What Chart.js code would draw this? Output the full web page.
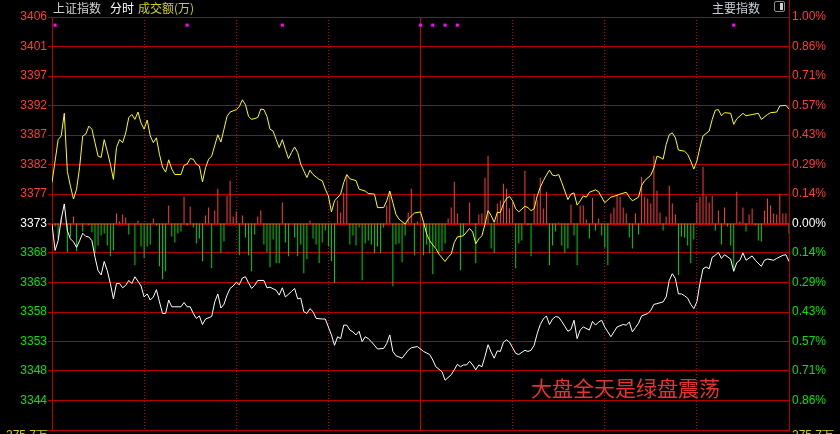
<!DOCTYPE html>
<html>
<head>
<meta charset="utf-8">
<title>上证指数 分时</title>
<script src="https://cdn.jsdelivr.net/npm/chart.js@4.4.1/dist/chart.umd.min.js"></script>
<style>
    html, body { margin: 0; padding: 0; background: #000; }
    #wrap { position: relative; width: 840px; height: 434px; overflow: hidden; background: #000; }
    #fenshiChart { position: absolute; left: 0; top: 0; }
    .lbl { position: absolute; top: 0; font-family: "Noto Sans CJK SC", sans-serif; font-size: 12px; line-height: 16px; white-space: nowrap; }
    .vol { position: absolute; top: 427px; font-family: "Liberation Sans", sans-serif; font-size: 12px; line-height: 16px; color: #d2d200; white-space: nowrap; }
    .note { position: absolute; left: 531px; top: 375px; font-family: "Noto Sans CJK SC", sans-serif; font-size: 21px; line-height: 24px; color: #e63232; white-space: nowrap; }
    #toggle { position: absolute; left: 774px; top: 1px; width: 9px; height: 9px; border: 1px solid #8c8c8c; border-radius: 2px; }
    #toggle div { position: absolute; right: 1px; top: 1px; width: 3px; height: 7px; background: #d0d0d0; }
    #rightEdge { position: absolute; left: 789px; top: 0; width: 1px; height: 17px; background: #b40000; }
</style>
</head>
<body>
<div id="wrap">
    <canvas id="fenshiChart" width="840" height="434"></canvas>
    <span class="lbl" style="left:53px; color:#d2d2d2;">上证指数</span>
    <span class="lbl" style="left:110px; color:#ffffff;">分时</span>
    <span class="lbl" style="left:138px; color:#d2d200;">成交额(万)</span>
    <span class="lbl" style="left:712px; color:#c8d0dc;">主要指数</span>
    <div id="toggle"><div></div></div>
    <div id="rightEdge"></div>
    <span class="vol" style="left:6px;">275.7万</span>
    <span class="vol" style="left:792px;">275.7万</span>
    <span class="note">大盘全天是绿盘震荡</span>
</div>
<script>
// previous close and axis labels
var prevClose = 3372.8;
var priceLabels = ['3406', '3401', '3397', '3392', '3387', '3382', '3377', '3373', '3368', '3363', '3358', '3353', '3348', '3344', ''];
var pctLabels = ['1.00%', '0.86%', '0.71%', '0.57%', '0.43%', '0.29%', '0.14%', '0.00%', '0.14%', '0.29%', '0.43%', '0.57%', '0.71%', '0.86%', ''];
var gridMinutes = [0, 30, 60, 90, 120, 150, 180, 210, 240];

// [minute since 9:30, price]
var yellowSeries = [
    [0, 3379.5], [1, 3383.0], [2, 3386.5], [3, 3387.1], [4, 3390.8], [5, 3381.3], [6, 3378.9], [7, 3376.8], [8, 3378.4], [9, 3382.0],
    [10, 3387.1], [11, 3387.4], [12, 3388.7], [13, 3388.2], [14, 3386.0], [15, 3383.8], [16, 3383.6], [17, 3386.5], [18, 3384.6], [19, 3382.5],
    [20, 3380.0], [21, 3385.2], [22, 3386.5], [23, 3386.0], [24, 3387.6], [25, 3390.1], [26, 3390.6], [27, 3389.8], [28, 3391.0], [29, 3389.2],
    [30, 3388.2], [31, 3389.7], [32, 3387.1], [33, 3386.0], [34, 3386.8], [35, 3384.1], [36, 3382.0], [37, 3381.2], [38, 3383.2], [39, 3381.7],
    [40, 3380.8], [42, 3380.8], [43, 3382.3], [44, 3382.5], [45, 3383.4], [46, 3383.3], [47, 3382.5], [48, 3382.2], [49, 3379.6], [50, 3381.9],
    [51, 3383.3], [52, 3383.8], [54, 3387.3], [55, 3386.1], [56, 3388.2], [57, 3390.3], [58, 3391.0], [60, 3391.4], [61, 3391.9], [62, 3393.0],
    [63, 3392.2], [64, 3390.3], [65, 3389.8], [67, 3390.1], [68, 3391.5], [69, 3391.4], [70, 3390.3], [71, 3388.2], [72, 3387.9], [73, 3386.5],
    [74, 3385.2], [75, 3386.5], [76, 3384.9], [77, 3383.4], [78, 3384.4], [79, 3385.3], [80, 3384.4], [81, 3382.5], [83, 3380.3], [84, 3381.5],
    [85, 3380.8], [87, 3380.0], [88, 3379.8], [89, 3378.4], [90, 3377.3], [91, 3374.7], [92, 3376.5], [94, 3377.6], [95, 3379.5], [96, 3380.8],
    [97, 3380.1], [99, 3379.8], [100, 3378.4], [102, 3378.1], [103, 3377.7], [105, 3377.6], [106, 3375.4], [108, 3375.4], [109, 3376.5], [110, 3378.1],
    [111, 3376.2], [112, 3374.3], [113, 3373.5], [115, 3372.7], [116, 3373.5], [118, 3374.5], [120, 3374.7], [121, 3373.0], [122, 3371.1], [123, 3370.0],
    [124, 3369.3], [125, 3368.7], [126, 3367.8], [128, 3366.6], [129, 3367.3], [130, 3367.8], [131, 3369.7], [132, 3370.6], [134, 3370.8], [135, 3371.4],
    [136, 3372.0], [137, 3371.4], [138, 3369.5], [139, 3370.3], [140, 3370.8], [141, 3372.7], [142, 3374.9], [143, 3374.1], [144, 3373.0], [145, 3374.6],
    [146, 3374.6], [147, 3376.0], [148, 3376.9], [149, 3377.2], [150, 3376.5], [151, 3375.2], [152, 3374.7], [154, 3375.6], [155, 3375.4], [156, 3374.9],
    [157, 3375.2], [158, 3377.3], [159, 3378.7], [160, 3379.8], [161, 3380.7], [162, 3381.5], [163, 3380.7], [164, 3380.6], [165, 3380.8], [166, 3379.5],
    [167, 3378.1], [168, 3376.7], [169, 3377.6], [170, 3377.8], [171, 3375.8], [172, 3376.5], [173, 3377.3], [174, 3377.1], [175, 3377.9], [177, 3378.3],
    [178, 3378.0], [180, 3376.2], [182, 3377.1], [184, 3377.4], [185, 3377.6], [187, 3377.9], [188, 3377.1], [189, 3376.5], [191, 3377.1], [192, 3379.0],
    [193, 3379.8], [195, 3380.7], [196, 3381.9], [197, 3383.8], [198, 3383.6], [199, 3383.3], [200, 3385.7], [201, 3387.3], [202, 3387.6], [203, 3386.8],
    [204, 3384.8], [206, 3384.6], [207, 3384.1], [208, 3383.0], [209, 3381.7], [210, 3383.0], [211, 3385.2], [212, 3387.1], [214, 3387.9], [215, 3389.8],
    [216, 3391.3], [217, 3391.4], [218, 3390.4], [219, 3390.9], [221, 3390.8], [222, 3389.0], [223, 3389.9], [225, 3390.8], [226, 3390.4], [228, 3390.6],
    [230, 3390.8], [231, 3389.8], [233, 3390.6], [234, 3390.9], [236, 3391.0], [237, 3392.0], [239, 3392.1], [240, 3391.5]
];

var whiteSeries = [
    [0, 3372.7], [1, 3368.4], [2, 3370.0], [3, 3373.5], [4, 3376.0], [5, 3371.6], [6, 3370.3], [7, 3369.8], [8, 3368.9], [9, 3370.0],
    [10, 3371.2], [11, 3370.7], [12, 3370.6], [13, 3370.0], [14, 3367.3], [15, 3365.1], [16, 3364.4], [17, 3366.6], [18, 3365.1], [19, 3363.0],
    [20, 3360.5], [21, 3363.0], [22, 3363.0], [23, 3362.3], [24, 3362.7], [25, 3363.5], [26, 3363.0], [27, 3364.1], [29, 3362.6], [30, 3360.8],
    [31, 3361.3], [32, 3360.3], [33, 3360.8], [34, 3362.0], [35, 3360.0], [36, 3358.1], [37, 3358.1], [38, 3360.3], [39, 3359.2], [40, 3359.2],
    [42, 3359.2], [43, 3359.9], [44, 3359.2], [45, 3359.2], [46, 3358.1], [47, 3357.3], [48, 3357.7], [49, 3356.3], [50, 3357.2], [52, 3357.6],
    [53, 3360.0], [54, 3361.3], [55, 3359.0], [56, 3359.6], [57, 3361.1], [58, 3362.2], [59, 3362.6], [60, 3363.2], [61, 3362.8], [62, 3363.9],
    [63, 3364.1], [64, 3363.1], [65, 3362.2], [66, 3362.7], [67, 3363.5], [69, 3363.5], [70, 3362.3], [71, 3362.4], [73, 3361.9], [74, 3361.1],
    [75, 3362.3], [76, 3360.8], [78, 3361.7], [79, 3362.2], [80, 3360.5], [81, 3360.6], [82, 3358.4], [83, 3358.1], [84, 3358.9], [85, 3358.4],
    [86, 3357.3], [88, 3357.2], [89, 3357.2], [90, 3355.9], [91, 3354.6], [92, 3352.9], [93, 3354.3], [94, 3354.0], [95, 3356.2], [96, 3356.2],
    [97, 3355.4], [98, 3355.1], [99, 3354.6], [100, 3355.2], [101, 3353.5], [102, 3354.3], [103, 3354.0], [104, 3353.5], [106, 3352.3], [108, 3352.4],
    [109, 3353.2], [110, 3354.6], [111, 3351.9], [112, 3351.2], [114, 3350.8], [116, 3352.1], [117, 3352.5], [119, 3352.7], [121, 3351.9], [123, 3351.4],
    [124, 3350.5], [125, 3349.4], [127, 3348.6], [128, 3347.2], [130, 3348.1], [131, 3348.9], [132, 3349.8], [133, 3349.4], [134, 3349.7], [135, 3349.7],
    [136, 3350.3], [137, 3349.7], [138, 3348.9], [139, 3349.7], [140, 3349.4], [141, 3351.1], [142, 3353.0], [143, 3351.8], [144, 3350.8], [145, 3352.0],
    [146, 3351.9], [147, 3353.4], [148, 3353.8], [149, 3353.4], [150, 3352.5], [151, 3351.6], [152, 3351.4], [154, 3352.1], [155, 3351.9], [156, 3352.1],
    [157, 3352.9], [158, 3354.8], [159, 3356.3], [160, 3357.2], [161, 3357.7], [162, 3356.3], [163, 3357.2], [164, 3357.6], [165, 3357.5], [166, 3356.8],
    [167, 3356.0], [168, 3355.2], [169, 3355.5], [170, 3357.0], [171, 3354.0], [172, 3355.4], [173, 3355.9], [175, 3355.4], [176, 3356.8], [177, 3356.2],
    [178, 3356.7], [179, 3357.0], [180, 3355.9], [181, 3355.1], [182, 3354.3], [183, 3355.1], [184, 3355.9], [186, 3356.3], [187, 3356.2], [188, 3356.7],
    [189, 3355.1], [190, 3355.8], [191, 3356.5], [192, 3357.7], [194, 3358.1], [195, 3358.6], [196, 3359.6], [197, 3359.7], [199, 3360.0], [200, 3360.8],
    [201, 3363.5], [202, 3364.6], [203, 3363.8], [204, 3361.3], [205, 3361.3], [206, 3361.0], [207, 3360.6], [208, 3359.6], [209, 3358.9], [210, 3360.0],
    [211, 3363.0], [212, 3365.4], [213, 3365.7], [214, 3365.4], [215, 3367.3], [216, 3367.6], [217, 3368.1], [218, 3367.1], [219, 3367.7], [221, 3367.0],
    [222, 3365.0], [223, 3366.4], [224, 3366.8], [225, 3368.0], [226, 3366.8], [228, 3367.5], [229, 3366.8], [231, 3365.8], [232, 3366.8], [233, 3367.0],
    [235, 3366.8], [236, 3367.1], [238, 3367.6], [239, 3367.7], [240, 3366.6]
];

// [minute, bar value] red above zero, green below
var barSeries = [
    [1, -3], [2, -15], [3, 6], [5, -29], [6, -13], [7, 7], [8, -28], [10, -8], [12, -2], [13, -9], [14, -30], [15, -22], [16, -12], [17, -10],
    [18, -22], [19, -33], [20, -27], [21, 10], [22, 2], [23, 9], [24, 6], [25, -11], [27, -42], [28, 3], [29, -23], [30, -35], [31, -23], [32, -21],
    [33, 5], [34, -2], [35, -43], [36, -56], [37, -48], [38, 18], [39, -13], [40, -19], [41, -10], [42, -8], [43, 27], [44, -2], [45, 17], [46, -4],
    [47, -20], [48, -15], [49, -38], [50, 8], [51, 16], [52, -45], [53, 13], [54, 35], [55, -30], [56, -18], [57, 28], [58, 43], [59, 7], [60, 12],
    [61, -32], [62, 8], [63, -14], [64, -32], [65, -48], [66, -11], [67, 7], [68, 13], [69, -21], [70, -29], [71, -44], [72, -16], [73, -40], [74, -40],
    [75, 21], [76, -19], [77, -33], [79, -14], [80, -33], [81, -21], [82, -50], [83, -36], [84, 3], [85, -15], [86, -21], [87, -40], [88, -19], [89, -7],
    [90, -23], [91, -38], [92, -60], [93, 23], [94, 11], [95, 31], [96, 48], [97, -21], [98, -12], [99, -22], [100, -4], [101, -57], [102, -20], [103, -17],
    [104, -21], [105, -30], [106, -23], [107, -30], [108, -4], [109, 18], [110, 32], [111, -63], [112, -21], [113, -20], [114, -39], [115, -12], [116, 11], [117, 35],
    [118, -32], [119, 2], [121, -32], [122, -21], [123, -30], [124, -51], [125, -24], [126, -30], [127, -28], [128, -20], [129, 5], [130, 16], [131, 42], [132, 10],
    [133, -47], [134, -12], [136, 21], [138, -40], [139, 9], [140, 10], [141, 46], [142, 68], [143, -25], [144, -30], [145, 20], [146, 23], [147, 40], [148, 35],
    [149, 15], [150, 21], [151, -45], [152, -20], [153, -17], [154, 53], [155, -2], [156, -33], [157, 30], [158, 23], [159, 46], [160, 15], [161, 32], [162, -42],
    [163, -22], [164, -8], [165, 1], [166, -22], [167, -30], [168, -25], [169, 19], [170, -12], [171, -42], [172, 18], [173, 18], [174, 4], [175, -15], [176, 26],
    [177, -7], [178, 5], [179, -12], [180, -24], [181, -42], [182, 10], [183, 16], [184, 29], [185, 27], [186, 16], [187, 10], [188, -14], [189, -25], [190, 10],
    [191, -11], [192, 47], [193, 27], [194, 25], [195, 20], [196, 68], [197, 33], [198, 11], [199, -7], [200, 7], [201, 38], [202, 20], [203, 9], [204, -52],
    [205, -13], [206, -14], [207, -22], [208, -40], [209, -16], [210, 21], [211, 27], [212, 57], [213, 28], [214, 21], [215, 28], [216, -7], [217, 13], [218, -21],
    [219, 16], [220, -3], [221, -22], [222, -48], [223, 32], [224, 2], [225, 16], [226, -8], [227, 9], [228, 15], [229, -2], [230, -17], [231, -18], [232, 13],
    [233, 25], [234, 18], [235, 10], [236, 9], [237, 30], [238, 10], [239, 10], [240, -10]
];

// magenta signal markers along the top
var markerMinutes = [1, 44, 75, 120, 124, 128, 132, 222];
var markerPrice = 3405.2;

var gridRed = '#b40000';
var tickPrices = priceLabels.map(function (lbl, i) { return prevClose * (1 + (7 - i) / 700); });

function toPoints(series) {
    return series.map(function (p) { return { x: p[0], y: p[1] }; });
}

function labelColor(i) {
    if (i < 7) return '#ff3c3c';
    if (i === 7) return '#ffffff';
    return '#00e600';
}

function fixWidth(w) {
    return function (scale) {
        scale.width = w;
        scale.paddingTop = 0;
        scale.paddingBottom = 0;
    };
}

function setPriceTicks(scale) {
    scale.ticks = tickPrices.map(function (v) { return { value: v }; });
}

var ctx = document.getElementById('fenshiChart').getContext('2d');

var fenshiChart = new Chart(ctx, {
    type: 'line',
    data: {
        datasets: [
            {
                type: 'bar',
                label: '成交额',
                data: toPoints(barSeries),
                yAxisID: 'yb',
                barThickness: 1,
                inflateAmount: 0,
                grouped: false,
                borderWidth: 0,
                backgroundColor: function (c) {
                    return (c.raw && c.raw.y >= 0) ? '#ff3c3c' : '#00d200';
                },
                order: 3
            },
            {
                label: '白线',
                data: toPoints(whiteSeries),
                yAxisID: 'y',
                borderColor: '#ffffff',
                borderWidth: 1,
                pointRadius: 0,
                tension: 0,
                order: 2
            },
            {
                label: '黄线',
                data: toPoints(yellowSeries),
                yAxisID: 'y',
                borderColor: '#ffff00',
                borderWidth: 1,
                pointRadius: 0,
                tension: 0,
                order: 1
            },
            {
                label: '信号',
                data: markerMinutes.map(function (m) { return { x: m, y: markerPrice }; }),
                yAxisID: 'y',
                showLine: false,
                pointStyle: 'rect',
                pointRadius: 2.2,
                pointBorderWidth: 0,
                pointBackgroundColor: '#ff00ff',
                order: 0
            }
        ]
    },
    options: {
        responsive: false,
        animation: false,
        devicePixelRatio: 1,
        layout: { padding: { top: 17, bottom: 2, left: 0, right: 0 } },
        plugins: {
            legend: { display: false },
            tooltip: { enabled: false }
        },
        scales: {
            x: {
                type: 'linear',
                min: 0,
                max: 240,
                offset: false,
                afterBuildTicks: function (scale) {
                    scale.ticks = gridMinutes.map(function (v) { return { value: v }; });
                },
                afterFit: function (scale) { scale.height = 0; },
                ticks: { display: false },
                grid: { color: '#c80000', lineWidth: 1, drawTicks: false, offset: false },
                border: {
                    display: false,
                    dash: function (c) {
                        return (c.tick && c.tick.value % 120 === 0) ? [] : [1, 2];
                    }
                }
            },
            y: {
                position: 'left',
                min: tickPrices[14],
                max: tickPrices[0],
                afterBuildTicks: setPriceTicks,
                afterFit: fixWidth(52),
                ticks: {
                    autoSkip: false,
                    padding: 1,
                    font: { family: 'Liberation Sans', size: 12 },
                    color: function (c) { return labelColor(c.index); },
                    callback: function (v, i) { return priceLabels[i]; }
                },
                grid: {
                    color: function (c) { return c.index === 7 ? '#d20000' : gridRed; },
                    lineWidth: function (c) { return c.index === 7 ? 2 : 1; },
                    tickLength: 4,
                    tickColor: gridRed
                },
                border: { display: true, color: gridRed }
            },
            y2: {
                position: 'right',
                min: tickPrices[14],
                max: tickPrices[0],
                afterBuildTicks: setPriceTicks,
                afterFit: fixWidth(51),
                ticks: {
                    autoSkip: false,
                    padding: 3,
                    font: { family: 'Liberation Sans', size: 12 },
                    color: function (c) { return labelColor(c.index); },
                    callback: function (v, i) { return pctLabels[i]; }
                },
                grid: { drawOnChartArea: false, drawTicks: false },
                border: { display: true, color: gridRed }
            },
            yb: {
                display: false,
                min: -207.5,
                max: 207.5
            }
        }
    }
});
</script>
</body>
</html>
